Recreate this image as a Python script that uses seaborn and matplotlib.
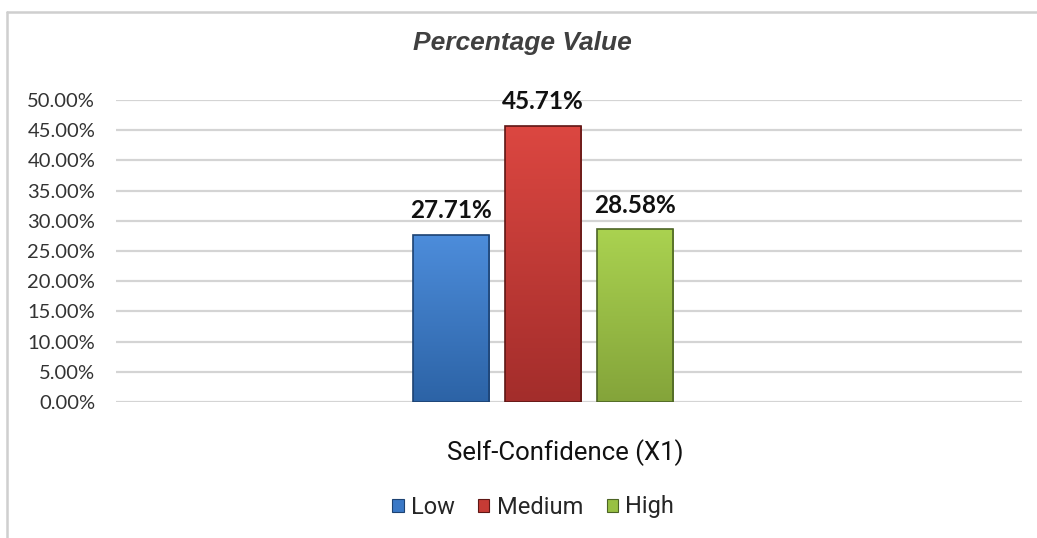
import numpy as np
import seaborn as sns
import pandas as pd
import matplotlib.pyplot as plt
from matplotlib.patches import Patch
from matplotlib.lines import Line2D
from matplotlib.colors import LinearSegmentedColormap

# values
category = "Self-Confidence (X1)"
levels = ["Low", "Medium", "High"]
percentages = [27.71, 45.71, 28.58]
bar_colors = ["#3a78c6", "#c63b35", "#98c043"]
top_colors = ["#4d8ddb", "#dc4741", "#aad250"]
bottom_colors = ["#2c63a6", "#a32d2b", "#84a43a"]
edge_colors = ["#1d4272", "#5e1715", "#4c6425"]
y_ticks = [0, 5, 10, 15, 20, 25, 30, 35, 40, 45, 50]

df = pd.DataFrame({"group": [category] * 3, "level": levels, "value": percentages})

sns.set_theme(style="white")
plt.rcParams['font.family'] = ['Lato', 'DejaVu Sans']

W, H = 1037, 538
fig = plt.figure(figsize=(W / 100, H / 100), dpi=100)
ax = fig.add_axes([116 / W, 1 - 402 / H, (1022 - 116) / W, (402 - 100) / H])

sns.barplot(data=df, x="group", y="value", hue="level", hue_order=levels,
            palette=bar_colors, saturation=1, width=0.8, gap=0.17, legend=False, ax=ax)

# vertical shading inside each bar, like the Excel style
grad = np.linspace(0, 1, 256).reshape(-1, 1)
for bar, lo, hi, ec in zip(ax.patches, bottom_colors, top_colors, edge_colors):
    x0, y0, w, h = bar.get_x(), bar.get_y(), bar.get_width(), bar.get_height()
    cmap = LinearSegmentedColormap.from_list("shade", [lo, hi])
    im = ax.imshow(grad, extent=[x0, x0 + w, y0, y0 + h], origin="lower", cmap=cmap,
                   aspect="auto", zorder=2.1)
    im.set_clip_path(bar)
    bar.set_facecolor("none")
    bar.set_edgecolor(ec)
    bar.set_linewidth(1.2)
    bar.set_zorder(2.2)

for cont in ax.containers:
    ax.bar_label(cont, fmt="%.2f%%", padding=9, fontsize=17.5, fontweight="bold",
                 color="#111111", family=['Lato', 'DejaVu Sans'])

# place the cluster like the reference (slightly left of axis centre)
ax.set_xlim(-1.238, 1.388)
ax.set_ylim(0, 50)
ax.set_yticks(y_ticks)
ax.set_yticklabels([f"{v:.2f}%" for v in y_ticks])
ax.tick_params(axis="y", length=0, pad=15, labelsize=14.5, labelcolor="#333333")
ax.set_xticks([])
ax.grid(axis="y", color="#d4d4d4", linewidth=1.6)
ax.set_axisbelow(True)
sns.despine(ax=ax, left=True, bottom=True)

ax.set_xlabel(category, fontsize=18.5, color="#111111",
              family=['Roboto', 'DejaVu Sans'])
ax.xaxis.set_label_coords(0.4956, -0.169)
ax.xaxis.label.set_verticalalignment("center")
ax.set_ylabel("")

fig.text(522 / W, 1 - 50 / H, "Percentage Value", ha="center", va="baseline",
         fontsize=19, fontstyle="italic", fontweight="bold", color="#404040",
         family=['Liberation Sans', 'DejaVu Sans'])

handles = [Patch(facecolor=c, edgecolor=e, linewidth=0.8) for c, e in zip(bar_colors, edge_colors)]
fig.legend(handles, levels, loc="center", bbox_to_anchor=(533 / W, 1 - 507 / H), ncol=3,
           frameon=False, handlelength=0.48, handleheight=0.48, handletextpad=0.3,
           columnspacing=1.0, prop={'family': ['Roboto', 'DejaVu Sans'], 'size': 17})

# light frame around the chart area (top and left edges visible)
fig.add_artist(Line2D([7 / W, 1], [1 - 12 / H, 1 - 12 / H], transform=fig.transFigure,
                      color="#cfcfcf", linewidth=1.8))
fig.add_artist(Line2D([7 / W, 7 / W], [0, 1 - 12 / H], transform=fig.transFigure,
                      color="#cfcfcf", linewidth=1.8))

fig.savefig("out.png", dpi=100)
